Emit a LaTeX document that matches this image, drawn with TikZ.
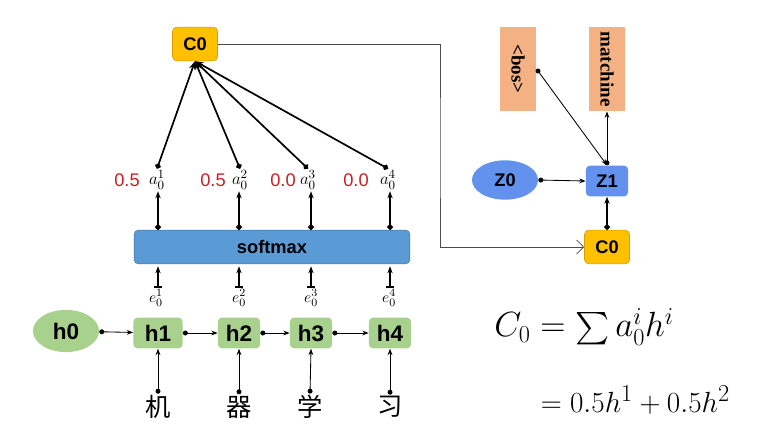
\documentclass[tikz,border=0pt]{standalone}
\usepackage{amsmath,amssymb}
\usepackage{fontspec}
\setsansfont{Liberation Sans}
\newfontfamily\serifb{Liberation Serif}
\newfontfamily\cjk{Noto Sans CJK SC}
\usetikzlibrary{shapes, arrows.meta, positioning, calc}
\definecolor{gold}{RGB}{255,192,0}
\definecolor{goldline}{RGB}{214,160,0}
\definecolor{sky}{RGB}{91,155,213}
\definecolor{skyline}{RGB}{65,113,156}
\definecolor{leaf}{RGB}{169,209,142}
\definecolor{zblue}{RGB}{99,146,238}
\definecolor{salmon}{RGB}{244,177,131}
\definecolor{wred}{RGB}{200,30,35}

\begin{document}
\begin{tikzpicture}[x=0.025cm, y=-0.025cm,
	box/.style={rounded corners=3pt, inner sep=0pt, font=\sffamily\bfseries\fontsize{13}{15}\selectfont},
	cbox/.style={box, fill=gold, draw=goldline, minimum width=32pt, minimum height=24pt},
	hbox/.style={box, fill=leaf, minimum width=30pt, minimum height=22pt, font=\sffamily\bfseries\fontsize{16}{18}\selectfont},
	word/.style={fill=salmon, minimum width=26pt, minimum height=60pt, inner sep=0pt, font=\serifb\bfseries\fontsize{13.5}{15}\selectfont},
	fan/.style={line width=1.2pt, {Circle[length=4pt]}-{Stealth[length=6pt]}},
	up/.style={line width=1.4pt, {Circle[length=4pt]}-{Stealth[length=5pt]}},
	feed/.style={line width=1.4pt, {Bar[width=5pt]}-{Stealth[length=5pt]}, shorten >=1.5pt, shorten <=1pt},
	link/.style={line width=0.6pt, {Circle[length=3.5pt]}-{Stealth[length=4.5pt]}},
	route/.style={line width=0.5pt, draw=black!70, -{Straight Barb[length=5pt]}}]
	\useasboundingbox (0,0) rectangle (761,434);
	% attention part
	\node[cbox] (C0) at (195,44) {C0};
	\node[box, fill=sky, draw=skyline, minimum width=196pt, minimum height=24pt] (softmax) at (272,247) {softmax};
	\node[ellipse, fill=leaf, minimum width=47pt, minimum height=30pt, inner sep=0pt, font=\sffamily\bfseries\fontsize{16}{18}\selectfont] (h0) at (66,331) {h0};
	\node[hbox, minimum width=35pt] (h1) at (158,333) {h1};
	\foreach \i/\x in {2/239, 3/311, 4/390}
		\node[hbox] (h\i) at (\x,333) {h\i};
	\foreach \i/\x/\ch in {1/158/机, 2/239/器, 3/310/学, 4/390/习}
		\node[font=\cjk\fontsize{18}{20}\selectfont, inner sep=1pt] (c\i) at (\x,407) {\ch};
	\foreach \i/\x in {1/157, 2/240, 3/308, 4/388}
		\node[font=\fontsize{13}{15}\selectfont, inner sep=1pt] (a\i) at (\x,180) {$a_0^{\i}$};
	\foreach \i/\x in {1/156, 2/239, 3/311, 4/389}
		\node[font=\fontsize{11}{13}\selectfont, inner sep=0pt] (e\i) at (\x,298) {$e_0^{\i}$};
	\foreach \i/\x/\w in {1/127/0.5, 2/213/0.5, 3/283/0.0, 4/356/0.0}
		\node[text=wred, font=\sffamily\fontsize{13}{15}\selectfont] (w\i) at (\x,180) {\w};
	\foreach \i in {1,...,4} {
		\draw[fan] (a\i.north) -- (C0.south);
		\draw[up] (softmax.north -| h\i) -- (a\i.south -| h\i);
		\draw[feed] (e\i.north -| h\i) -- (softmax.south -| h\i);
		\draw[link] (c\i.north) -- (h\i.south);
	}
	\foreach \from/\to in {h0/h1, h1/h2, h2/h3, h3/h4}
		\draw[link] (\from) -- (\to);
	% decoder part
	\node[cbox] (C0b) at (607,247) {C0};
	\node[box, fill=zblue, minimum width=30pt, minimum height=22pt] (Z1) at (607,181) {Z1};
	\node[ellipse, fill=zblue, minimum width=47pt, minimum height=28pt, inner sep=0pt, font=\sffamily\bfseries\fontsize{13}{15}\selectfont] (Z0) at (505,180) {Z0};
	\node[word] (bos) at (518,69) {\rotatebox{-90}{<bos>}};
	\node[word] (mach) at (607,69) {\rotatebox{-90}{matchine}};
	\coordinate (turn) at (440,150);
	\draw[route] (C0.east) -| (turn) |- (C0b.west);
	\draw[up] (C0b.north) -- (Z1.south);
	\draw[link] (Z0.east) -- (Z1.west);
	\draw[link] (bos.east) -- (Z1.north);
	\draw[link] (Z1.north) -- (mach.south);
	% formula
	\node[font=\fontsize{23}{27}\selectfont] (sum) at (584,327) {$C_0=\sum a_0^ih^i$};
	\node[anchor=west, font=\fontsize{22.8}{26}\selectfont] (expand) at (536,400) {$=0.5h^1+0.5h^2$};
\end{tikzpicture}
\end{document}
